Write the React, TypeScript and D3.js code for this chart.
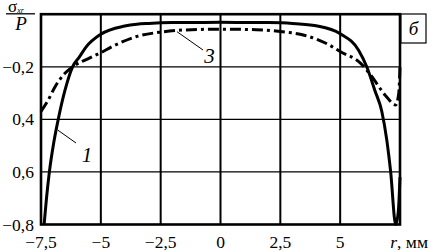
import React from "react";
import * as d3 from "d3";

const xTicks = [-7.5, -5, -2.5, 0, 2.5, 5];
const xTickLabels = ["−7,5", "−5", "−2,5", "0", "2,5", "5"];
const xGrid = [-5, -2.5, 0, 2.5, 5];
const yTicks = [0.2, 0.4, 0.6, 0.8];
const yTickLabels = ["−0,2", "0,4", "0,6", "−0,8"];
const yGrid = [0.2, 0.4, 0.6];

// curve 1 (solid)
const r1 = [-7.37, -7.27, -7.15, -6.97, -6.78, -6.5, -6.18, -5.9, -5.62, -5, -4, -3.5, -3, -2, 0, 2, 3, 4, 5, 5.77, 6.11, 6.45, 6.74, 6.95, 7.11, 7.32, 7.43, 7.5];
const v1 = [0.8, 0.7, 0.6, 0.49, 0.4, 0.29, 0.2, 0.163, 0.125, 0.076, 0.045, 0.038, 0.035, 0.032, 0.031, 0.032, 0.035, 0.044, 0.074, 0.137, 0.2, 0.29, 0.37, 0.48, 0.6, 0.8, 0.75, 0.62];

// curve 3 (dash-dot)
const r3 = [-7.5, -7.22, -6.875, -6.5, -6.18, -5.5, -5, -4.5, -3.54, -2.5, -1.5, 0, 1.5, 2.5, 3.5, 4.5, 5, 5.86, 6.28, 6.9, 7.32, 7.45, 7.5];
const v3 = [0.37, 0.33, 0.27, 0.225, 0.2, 0.168, 0.146, 0.122, 0.086, 0.068, 0.06, 0.057, 0.059, 0.066, 0.08, 0.115, 0.142, 0.187, 0.232, 0.31, 0.345, 0.3, 0.2];

const W = 432;
const H = 252;
const L = 41, R = 400, T = 14.2, B = 224.5;
const font = "Liberation Serif";

export default function App() {
  const x = d3.scaleLinear().domain([-7.5, 7.5]).range([L, R]);
  const y = d3.scaleLinear().domain([0, 0.8]).range([T, B]);
  const line = d3
    .line<[number, number]>()
    .x((d) => x(d[0]))
    .y((d) => y(d[1]))
    .curve(d3.curveMonotoneX);
  const d1 = line(r1.map((r, i) => [r, v1[i]] as [number, number])) || "";
  const d3p = line(r3.map((r, i) => [r, v3[i]] as [number, number])) || "";
  const ts = { fontFamily: font };

  return (
    <svg width={W} height={H} fontFamily={font} style={{ position: "absolute", left: 0, top: 0, background: "#fff" }}>
      <rect x={0} y={0} width={W} height={H} fill="#fff" />
      {xGrid.map((v) => (
        <line key={"gx" + v} x1={x(v)} x2={x(v)} y1={T} y2={B} stroke="#000" strokeWidth={2} />
      ))}
      {yGrid.map((v) => (
        <line key={"gy" + v} x1={L} x2={R} y1={y(v)} y2={y(v)} stroke="#000" strokeWidth={1.3} />
      ))}
      <path d={d3p} fill="none" stroke="#000" strokeWidth={3} strokeDasharray="11,4,3,4" />
      <path d={d1} fill="none" stroke="#000" strokeWidth={3} />
      <rect x={L} y={T} width={R - L} height={B - T} fill="none" stroke="#000" strokeWidth={2.6} />
      {yTicks.map((v, i) => (
        <text key={"yt" + v} x={34} y={y(v) + 6} textAnchor="end" fontSize={17.5} style={ts}>
          {yTickLabels[i]}
        </text>
      ))}
      {xTicks.map((v, i) => (
        <text key={"xt" + v} x={x(v)} y={248} textAnchor="middle" fontSize={17.5} style={ts}>
          {xTickLabels[i]}
        </text>
      ))}
      <text x={428} y={248} textAnchor="end" fontSize={17.5} style={ts}>
        <tspan fontStyle="italic">r</tspan>, мм
      </text>
      <text x={8} y={12} fontSize={17} style={ts}>
        σ
        <tspan fontSize={8} fontStyle="italic" dy={1}>xr</tspan>
      </text>
      <line x1={6} x2={35} y1={13.8} y2={13.8} stroke="#000" strokeWidth={1.3} />
      <text x={21} y={30} textAnchor="middle" fontSize={19} fontStyle="italic" style={ts}>
        P
      </text>
      <rect x={401} y={14} width={25} height={29} fill="#fff" stroke="#000" strokeWidth={1.2} />
      <text x={413.5} y={35} textAnchor="middle" fontSize={19} fontStyle="italic" style={ts}>
        б
      </text>
      <line x1={57.7} y1={130} x2={76} y2={143} stroke="#000" strokeWidth={1} />
      <text x={87} y={162} textAnchor="middle" fontSize={21} fontStyle="italic" style={ts}>
        1
      </text>
      <line x1={177} y1={31.7} x2={203} y2={50} stroke="#000" strokeWidth={1} />
      <text x={209.5} y={63} textAnchor="middle" fontSize={21} fontStyle="italic" style={ts}>
        3
      </text>
    </svg>
  );
}
